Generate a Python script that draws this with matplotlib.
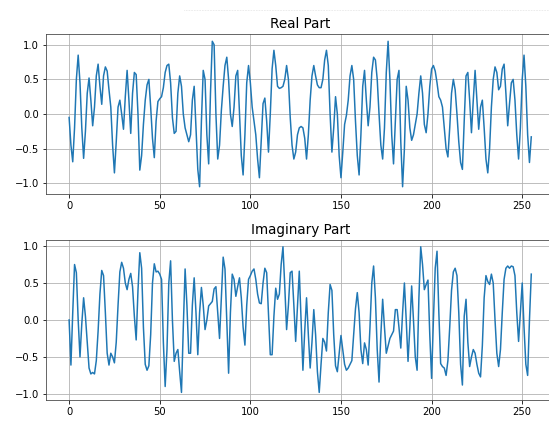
import matplotlib
matplotlib.use("Agg")
import matplotlib.pyplot as plt
from matplotlib.lines import Line2D
import numpy as np

# Значення (256 відліків)
real_part = [
    -0.05, -0.45, -0.69, -0.2, 0.5, 0.85, 0.45, -0.2, -0.64, -0.25,
    0.3, 0.52, 0.2, -0.17, 0.1, 0.55, 0.72, 0.4, 0.14, 0.55,
    0.68, 0.62, 0.35, 0.1, -0.45, -0.85, -0.4, 0.1, 0.2, 0.0,
    -0.22, 0.25, 0.63, 0.2, -0.28, 0.3, 0.6, 0.57, 0.0, -0.81,
    -0.6, -0.15, 0.2, 0.42, 0.5, 0.1, -0.35, -0.63, -0.1, 0.18,
    0.22, 0.25, 0.38, 0.6, 0.7, 0.72, 0.45, -0.05, -0.28, -0.25,
    0.3, 0.55, 0.4, 0.0, -0.2, -0.3, -0.4, -0.3, 0.2, 0.4,
    -0.2, -0.8, -1.05, -0.1, 0.63, 0.5, -0.3, -0.72, 0.3, 1.05,
    1.0, 0.0, -0.65, -0.45, 0.05, 0.4, 0.7, 0.82, 0.5, 0.0,
    -0.18, 0.1, 0.55, 0.63, 0.0, -0.6, -0.88, -0.3, 0.45, 0.7,
    0.45, 0.1, -0.1, -0.3, -0.65, -0.92, -0.4, 0.15, 0.23, -0.1,
    -0.55, 0.0, 0.65, 0.92, 0.7, 0.4, 0.37, 0.38, 0.4, 0.5,
    0.7, 0.5, -0.05, -0.45, -0.65, -0.55, -0.3, -0.2, -0.18, -0.2,
    -0.35, -0.65, -0.3, 0.2, 0.55, 0.7, 0.55, 0.42, 0.38, 0.38,
    0.5, 0.78, 0.92, 0.7, 0.0, -0.55, -0.2, 0.25, 0.0, -0.6,
    -0.92, -0.55, -0.15, -0.02, 0.2, 0.55, 0.7, 0.5, -0.1, -0.6,
    -0.88, -0.3, 0.4, 0.63, 0.2, -0.17, 0.1, 0.6, 0.82, 0.78,
    0.5, 0.0, -0.45, -0.65, -0.2, 0.6, 1.05, 0.5, -0.3, -0.72,
    -0.1, 0.5, 0.63, -0.4, -1.05, -0.5, 0.4, 0.2, -0.2, -0.38,
    -0.3, -0.15, 0.0, 0.3, 0.55, 0.3, -0.15, -0.27, 0.0, 0.4,
    0.65, 0.7, 0.62, 0.45, 0.25, 0.2, 0.1, -0.2, -0.5, -0.62,
    -0.2, 0.3, 0.5, 0.35, 0.0, -0.4, -0.7, -0.8, -0.1, 0.55,
    0.6, 0.2, -0.27, 0.2, 0.63, 0.2, -0.22, 0.1, 0.2, -0.2,
    -0.65, -0.85, -0.5, 0.1, 0.5, 0.68, 0.6, 0.35, 0.4, 0.65,
    0.72, 0.3, -0.17, 0.15, 0.45, 0.5, 0.2, -0.3, -0.65, -0.2,
    0.5, 0.85, 0.4, -0.3, -0.7, -0.33,
]

imag_part = [
    0.0, -0.61, 0.1, 0.75, 0.64, 0.0, -0.5, -0.05, 0.3, 0.05,
    -0.3, -0.65, -0.73, -0.71, -0.73, -0.55, -0.15, 0.35, 0.67, 0.6,
    0.1, -0.45, -0.61, -0.45, -0.5, -0.58, -0.3, 0.2, 0.65, 0.78,
    0.7, 0.5, 0.41, 0.55, 0.63, 0.45, 0.05, -0.27, 0.4, 0.91,
    0.7, -0.1, -0.6, -0.68, -0.62, -0.2, 0.5, 0.76, 0.65, 0.66,
    0.62, 0.55, -0.3, -0.9, -0.4, 0.5, 0.8, 0.0, -0.56, -0.45,
    -0.4, -0.7, -0.98, -0.1, 0.69, 0.2, -0.45, -0.45, 0.2, 0.57,
    0.1, -0.47, 0.1, 0.44, 0.2, -0.13, 0.0, 0.19, 0.22, 0.25,
    0.42, 0.45, 0.1, -0.25, 0.3, 0.85, 0.69, 0.0, -0.72, 0.1,
    0.62, 0.55, 0.32, 0.45, 0.57, 0.3, -0.1, -0.34, 0.2, 0.55,
    0.6, 0.66, 0.69, 0.55, 0.35, 0.23, 0.22, 0.5, 0.7, 0.64,
    0.1, -0.47, -0.47, 0.05, 0.43, 0.28, 0.35, 0.75, 0.99, 0.45,
    -0.13, 0.2, 0.64, 0.66, 0.2, -0.29, 0.2, 0.66, 0.0, -0.68,
    -0.15, 0.3, -0.2, -0.65, -0.3, 0.14, -0.2, -0.7, -0.98, -0.6,
    -0.25, -0.3, -0.42, 0.1, 0.48, 0.4, -0.2, -0.62, -0.7, -0.45,
    -0.21, -0.4, -0.6, -0.68, -0.65, -0.6, -0.55, -0.2, 0.15, 0.37,
    0.1, -0.4, -0.59, -0.31, -0.4, -0.61, -0.1, 0.5, 0.73, 0.3,
    -0.4, -0.84, -0.2, 0.28, -0.1, -0.45, -0.35, -0.25, -0.2, -0.15,
    0.14, 0.14, -0.1, -0.38, 0.1, 0.5, 0.0, -0.56, -0.1, 0.46,
    0.0, -0.5, -0.68, 0.3, 0.99, 0.75, 0.41, 0.48, 0.54, -0.2,
    -0.79, 0.0, 0.7, 0.93, 0.1, -0.59, -0.63, -0.65, -0.75, -0.55,
    -0.1, 0.4, 0.65, 0.7, 0.6, 0.1, -0.6, -0.88, 0.05, 0.28,
    -0.3, -0.63, -0.5, -0.4, -0.45, -0.6, -0.72, -0.77, -0.35, 0.3,
    0.6, 0.52, 0.48, 0.62, 0.5, 0.0, -0.45, -0.63, -0.4, 0.1,
    0.55, 0.7, 0.73, 0.7, 0.73, 0.72, 0.6, 0.1, -0.29, 0.1,
    0.5, -0.1, -0.6, -0.75, 0.0, 0.62,
]

n = np.arange(len(real_part))

# Фігура 549x421 пікселів, права межа осей виходить за край (як на скріншоті)
fig = plt.figure(figsize=(549 / 72, 421 / 72), dpi=72)

ax1 = fig.add_axes([0.0838, 0.5392, 0.926, 0.380])
ax1.plot(n, real_part)
ax1.set_title('Real Part', fontsize=13.5)
ax1.grid(True)

ax2 = fig.add_axes([0.0838, 0.0506, 0.926, 0.3805])
ax2.plot(n, imag_part)
ax2.set_title('Imaginary Part', fontsize=13.5)
ax2.grid(True)

for ax in (ax1, ax2):
    for s in ax.spines.values():
        s.set_edgecolor('#444444')

# тонка пунктирна лінія зверху (залишок скріншоту)
fig.add_artist(Line2D([184 / 549, 1.0], [1 - 10 / 421, 1 - 10 / 421],
                      color='#cccccc', linewidth=0.6, linestyle=':'))

fig.savefig('out.png', dpi=72)
